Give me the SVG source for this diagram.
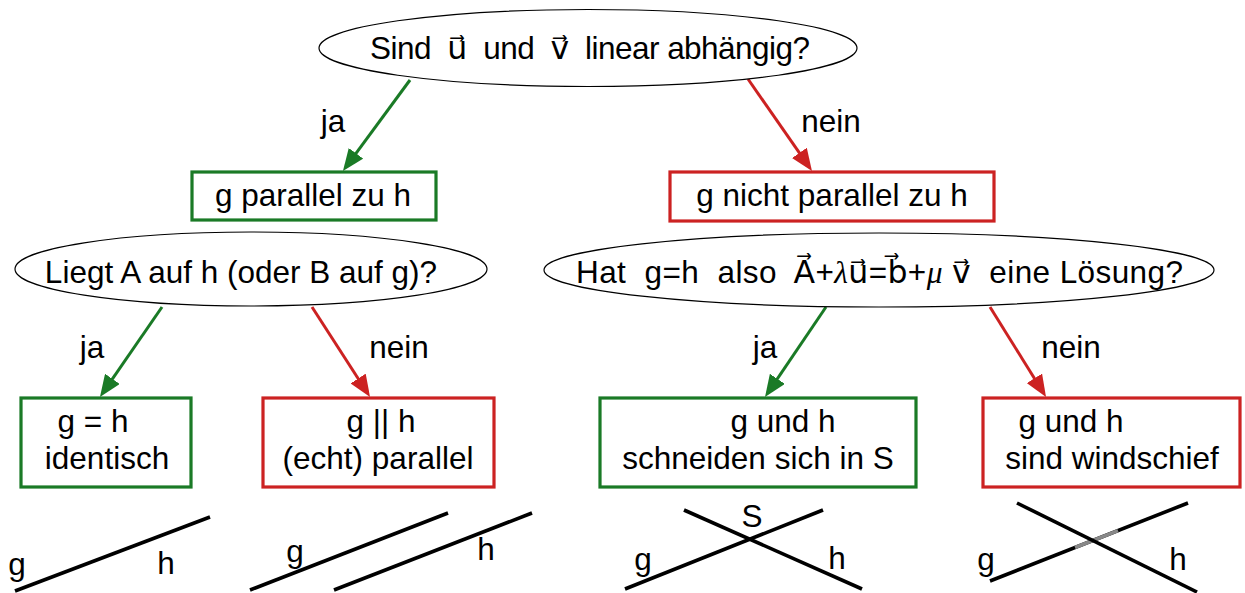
<svg xmlns="http://www.w3.org/2000/svg" width="1245" height="593" viewBox="0 0 1245 593">
<defs>
<style>
.t{font-family:"Liberation Sans",Arial,"DejaVu Sans",sans-serif;font-size:31.5px;fill:#000;white-space:pre}
.m{text-anchor:middle}
.gk{font-family:"Liberation Serif","DejaVu Serif",serif;font-style:italic}
.e{fill:#fff;stroke:#000;stroke-width:1.2}
.bg{fill:#fff;stroke:#1a7a26;stroke-width:3.2}
.br{fill:#fff;stroke:#cc2222;stroke-width:3.2}
.ag{stroke:#1a7a26;stroke-width:3;fill:none;marker-end:url(#mg)}
.ar{stroke:#cc2222;stroke-width:3;fill:none;marker-end:url(#mr)}
.ln{stroke:#000;stroke-width:3.6;fill:none}
</style>
<marker id="mg" viewBox="0 0 22 18" refX="14" refY="9" markerWidth="22" markerHeight="18" markerUnits="userSpaceOnUse" orient="auto">
<path d="M0,0 L22,9 L0,18 z" fill="#1a7a26"/>
</marker>
<marker id="mr" viewBox="0 0 22 18" refX="14" refY="9" markerWidth="22" markerHeight="18" markerUnits="userSpaceOnUse" orient="auto">
<path d="M0,0 L22,9 L0,18 z" fill="#cc2222"/>
</marker>
</defs>
<rect width="1245" height="593" fill="#fff"/>

<g id="connectors">
<line class="ag" x1="410" y1="80" x2="347.7" y2="164.6"/>
<line class="ar" x1="748" y1="79" x2="807.4" y2="164.4"/>
<line class="ag" x1="162" y1="307" x2="104.5" y2="390.4"/>
<line class="ar" x1="312" y1="307" x2="365.7" y2="390.3"/>
<line class="ag" x1="826" y1="307" x2="769.5" y2="390.4"/>
<line class="ar" x1="990" y1="307" x2="1041.8" y2="390.2"/>
<text class="t m" x="333" y="132">ja</text>
<text class="t m" x="831" y="132">nein</text>
<text class="t m" x="92" y="358">ja</text>
<text class="t m" x="399" y="358">nein</text>
<text class="t m" x="765" y="358">ja</text>
<text class="t m" x="1071" y="358">nein</text>
</g>

<g id="q1">
<ellipse class="e" cx="588" cy="48" rx="269" ry="38.5"/>
<text class="t" x="370" y="59" textLength="440" lengthAdjust="spacing">Sind  u⃗  und  v⃗  linear abhängig?</text>
</g>

<g id="parallel">
<rect class="bg" x="192" y="172" width="244" height="48"/>
<text class="t m" x="313" y="206">g parallel zu h</text>
</g>

<g id="nichtparallel">
<rect class="br" x="670" y="172" width="324" height="49"/>
<text class="t m" x="832" y="206">g nicht parallel zu h</text>
</g>

<g id="q2">
<ellipse class="e" cx="251" cy="269" rx="236" ry="37"/>
<text class="t m" x="241" y="283">Liegt A auf h (oder B auf g)?</text>
</g>

<g id="q3">
<ellipse class="e" cx="879" cy="270" rx="335" ry="37"/>
<text class="t" x="576" y="283" textLength="607" lengthAdjust="spacing">Hat  g=h  also  A⃗+<tspan class="gk">λ</tspan>u⃗=b⃗+<tspan class="gk">μ</tspan> v⃗  eine Lösung?</text>
</g>

<g id="identisch">
<rect class="bg" x="21" y="398" width="170" height="89"/>
<text class="t m" x="93" y="432">g = h</text>
<text class="t m" x="107" y="469">identisch</text>
</g>

<g id="echtparallel">
<rect class="br" x="263" y="398" width="231" height="89"/>
<text class="t m" x="381" y="432">g || h</text>
<text class="t m" x="378" y="469">(echt) parallel</text>
</g>

<g id="schneiden">
<rect class="bg" x="600" y="398" width="316" height="89"/>
<text class="t m" x="783" y="432">g und h</text>
<text class="t m" x="758" y="469">schneiden sich in S</text>
</g>

<g id="windschief">
<rect class="br" x="983" y="398" width="257" height="89"/>
<text class="t m" x="1071" y="432">g und h</text>
<text class="t m" x="1112" y="469">sind windschief</text>
</g>

<g id="sketch-identisch">
<line class="ln" x1="15" y1="591" x2="210" y2="517"/>
<text class="t m" x="17" y="575">g</text>
<text class="t m" x="166" y="574">h</text>
</g>

<g id="sketch-parallel">
<line class="ln" x1="250" y1="590" x2="448" y2="513"/>
<line class="ln" x1="334" y1="590" x2="532" y2="513"/>
<text class="t m" x="295" y="562">g</text>
<text class="t m" x="486" y="560">h</text>
</g>

<g id="sketch-schneiden">
<line class="ln" x1="625" y1="589" x2="823" y2="510"/>
<line class="ln" x1="684" y1="510" x2="862" y2="589"/>
<text class="t m" x="752" y="527">S</text>
<text class="t m" x="643" y="570">g</text>
<text class="t m" x="837" y="569">h</text>
</g>

<g id="sketch-windschief">
<line class="ln" x1="990" y1="581" x2="1188" y2="503"/>
<line x1="1075" y1="547.5" x2="1118" y2="530.6" stroke="#888" stroke-width="3.7"/>
<line class="ln" x1="1017" y1="503" x2="1197" y2="592"/>
<text class="t m" x="986" y="570">g</text>
<text class="t m" x="1178" y="570">h</text>
</g>
</svg>
